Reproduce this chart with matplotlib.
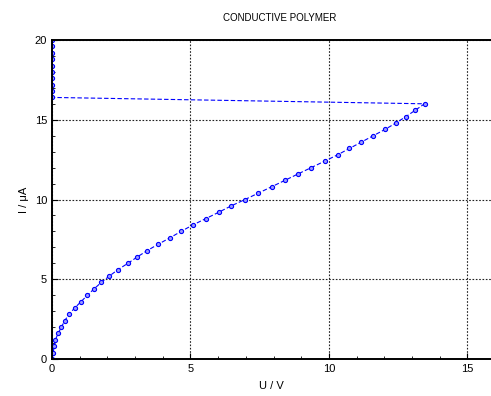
import numpy as np
import matplotlib.pyplot as plt
from matplotlib.ticker import MultipleLocator

plt.rcParams['font.family'] = ['Liberation Sans', 'DejaVu Sans']

# I-U sweep (U in V, I in uA)
voltage = [0.0, 0.05, 0.07, 0.12, 0.22, 0.34, 0.46, 0.61, 0.82, 1.05,
           1.28, 1.52, 1.78, 2.07, 2.38, 2.74, 3.08, 3.44, 3.84, 4.26,
           4.66, 5.08, 5.55, 6.02, 6.47, 6.97, 7.45, 7.93, 8.41, 8.88,
           9.36, 9.84, 10.31, 10.74, 11.17, 11.6, 12.03, 12.42, 12.78, 13.12,
           13.45,
           0.0, 0.0, 0.0, 0.0, 0.0, 0.0, 0.0, 0.0, 0.0, 0.0]
current = [0.0, 0.4, 0.8, 1.2, 1.6, 2.0, 2.4, 2.8, 3.2, 3.6,
           4.0, 4.4, 4.8, 5.2, 5.6, 6.0, 6.4, 6.8, 7.2, 7.6,
           8.0, 8.4, 8.8, 9.2, 9.6, 10.0, 10.4, 10.8, 11.2, 11.6,
           12.0, 12.4, 12.8, 13.2, 13.6, 14.0, 14.4, 14.8, 15.2, 15.6,
           16.0,
           16.4, 16.8, 17.2, 17.6, 18.0, 18.4, 18.8, 19.2, 19.6, 20.0]

fig = plt.figure(figsize=(4.91, 3.96), dpi=100)
ax = fig.add_axes([52 / 491, 37 / 396, 1 - 52 / 491, 319 / 396])

ax.plot(voltage, current, color='blue', linestyle='--', linewidth=0.8, dashes=(4, 2),
        marker='o', markersize=3, markerfacecolor='#9999ff', markeredgecolor='blue',
        markeredgewidth=0.8, zorder=2)

ax.set_xlim(0, 15.85)
ax.set_ylim(0, 20)
ax.xaxis.set_major_locator(MultipleLocator(5))
ax.yaxis.set_major_locator(MultipleLocator(5))
ax.xaxis.set_minor_locator(MultipleLocator(1))
ax.yaxis.set_minor_locator(MultipleLocator(1))
ax.tick_params(which='both', direction='in', labelsize=8)
ax.tick_params(which='major', length=4)
ax.tick_params(which='minor', length=2)
ax.grid(True, which='major', color='#222222', linestyle=(0, (1.5, 1.5)), linewidth=0.8)

ax.spines['right'].set_visible(False)
for s in ['left', 'bottom', 'top']:
    ax.spines[s].set_linewidth(1.4)
    ax.spines[s].set_zorder(3)

fig.text(279.5 / 491, 1 - 18 / 396, 'CONDUCTIVE POLYMER', fontsize=7,
         ha='center', va='center')
ax.set_xlabel('U / V', fontsize=8, labelpad=5)
ax.set_ylabel('I / \u03bcA', fontsize=8)

fig.savefig('out.png', dpi=100)
